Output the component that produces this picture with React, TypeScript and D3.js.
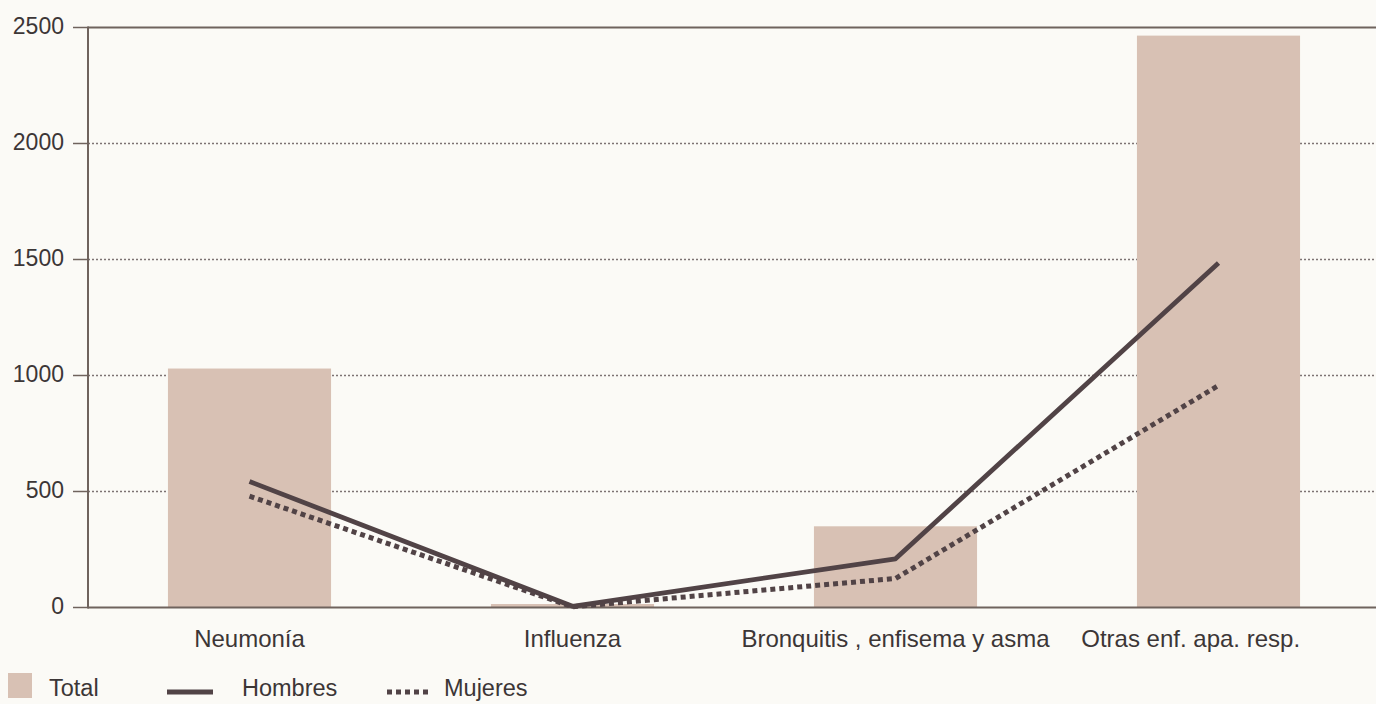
import React from "react";
import * as d3 from "d3";

const categories = ["Neumonía", "Influenza", "Bronquitis , enfisema y asma", "Otras enf. apa. resp."];
const totalValues = [1030, 15, 350, 2465];
const hombresValues = [543, 5, 210, 1485];
const mujeresValues = [480, 3, 125, 957];
const yTicks = [0, 500, 1000, 1500, 2000, 2500];

const W = 1376;
const H = 704;
const FONT = "'Liberation Sans', Arial, Helvetica, sans-serif";
const BAR = "#d8c1b4";
const LINE = "#514346";
const AXIS = "#6f635d";
const TEXT = "#3c3636";

export default function App() {
  const x = d3
    .scaleBand<string>()
    .domain(categories)
    .range([88, 1380])
    .paddingInner(0.495)
    .paddingOuter(0.2475);
  const y = d3.scaleLinear().domain([0, 2500]).range([607.5, 27.5]);
  const cx = (c: string) => (x(c) as number) + x.bandwidth() / 2;

  const line = d3
    .line<number>()
    .x((_, i) => cx(categories[i]))
    .y((d) => y(d));

  return (
    <svg
      width={W}
      height={H}
      style={{ position: "absolute", left: 0, top: 0, background: "#fbfaf6" }}
      fontFamily={FONT}
    >
      <rect x={0} y={0} width={W} height={H} fill="#fbfaf6" />
      {/* gridlines */}
      {yTicks
        .filter((t) => t !== 0 && t !== 2500)
        .map((t) => (
          <line
            key={"g" + t}
            x1={88}
            x2={W}
            y1={y(t)}
            y2={y(t)}
            stroke="#7d7373"
            strokeWidth={1.3}
            strokeDasharray="2,2"
          />
        ))}
      {/* bars */}
      {categories.map((c, i) => (
        <rect
          key={"b" + c}
          x={x(c)}
          y={y(totalValues[i])}
          width={x.bandwidth()}
          height={y(0) - y(totalValues[i])}
          fill={BAR}
        />
      ))}
      {/* frame: top line, left axis, bottom axis */}
      <line x1={88} x2={W} y1={y(2500)} y2={y(2500)} stroke={AXIS} strokeWidth={2} />
      <line x1={88} x2={W} y1={y(0)} y2={y(0)} stroke={AXIS} strokeWidth={2} />
      <line x1={88} x2={88} y1={y(2500) - 1} y2={y(0) + 1} stroke={AXIS} strokeWidth={2} />
      {yTicks.map((t) => (
        <g key={"t" + t}>
          <line x1={73} x2={88} y1={y(t)} y2={y(t)} stroke={AXIS} strokeWidth={1.5} />
          <text
            x={64}
            y={y(t)}
            dy="0.3em"
            textAnchor="end"
            fontSize={23}
            fill={TEXT}
          >
            {t}
          </text>
        </g>
      ))}
      {/* lines */}
      <path
        d={line(hombresValues) || ""}
        fill="none"
        stroke={LINE}
        strokeWidth={4.8}
        strokeLinejoin="round"
      />
      <path
        d={line(mujeresValues) || ""}
        fill="none"
        stroke={LINE}
        strokeWidth={5}
        strokeDasharray="5,4"
      />
      {/* category labels */}
      {categories.map((c, i) => {
        const last = i === categories.length - 1;
        return (
          <text
            key={"c" + c}
            x={last ? (x(c) as number) + x.bandwidth() : cx(c)}
            y={647}
            textAnchor={last ? "end" : "middle"}
            fontSize={24}
            fill={TEXT}
          >
            {c}
          </text>
        );
      })}
      {/* legend */}
      <rect x={8} y={673} width={24} height={25} fill={BAR} />
      <text x={49} y={696} fontSize={23.5} fill={TEXT}>
        Total
      </text>
      <line x1={167} x2={213} y1={692} y2={692} stroke={LINE} strokeWidth={5} />
      <text x={242} y={696} fontSize={23.5} fill={TEXT}>
        Hombres
      </text>
      <line
        x1={387}
        x2={431}
        y1={692}
        y2={692}
        stroke={LINE}
        strokeWidth={5}
        strokeDasharray="5,4"
      />
      <text x={444} y={696} fontSize={23.5} fill={TEXT}>
        Mujeres
      </text>
    </svg>
  );
}
